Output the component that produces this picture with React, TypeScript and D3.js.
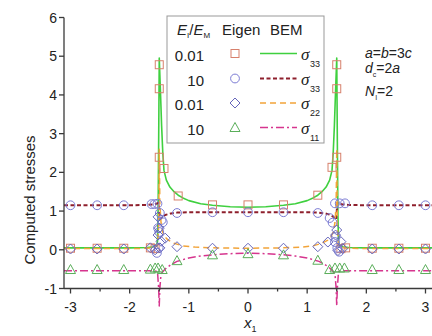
import { line, scaleLinear } from "d3";

const WIDTH = 432;
const HEIGHT = 336;
const FONT = "'Liberation Sans', Arial, sans-serif";
const SERIF = "'Liberation Serif', 'Times New Roman', serif";

const X_DOMAIN = [-3.11, 3.11];
const Y_DOMAIN = [-1, 6];
const X_TICKS = [-3, -2, -1, 0, 1, 2, 3];
const X_MINOR = [-2.5, -1.5, -0.5, 0.5, 1.5, 2.5];
const Y_TICKS = [-1, 0, 1, 2, 3, 4, 5, 6];

// BEM curves
const bemS33SoftX = [-3.11, -2.5, -2, -1.7, -1.6, -1.55, -1.53, -1.52, -1.51, -1.5, -1.48, -1.46, -1.44, -1.42, -1.38, -1.32, -1.25, -1.18, -1.1, -1.0, -0.8, -0.6, -0.3, 0, 0.3, 0.6, 0.8, 1.0, 1.1, 1.18, 1.25, 1.32, 1.38, 1.42, 1.44, 1.46, 1.48, 1.5, 1.51, 1.52, 1.53, 1.55, 1.6, 1.7, 2, 2.5, 3.11];
const bemS33SoftY = [0.05, 0.05, 0.05, 0.06, 0.08, 0.12, 0.2, 0.9, 2.8, 4.95, 4.1, 3.2, 2.5, 2.05, 1.8, 1.62, 1.5, 1.41, 1.34, 1.27, 1.19, 1.15, 1.11, 1.1, 1.11, 1.15, 1.19, 1.27, 1.34, 1.41, 1.5, 1.62, 1.8, 2.05, 2.5, 3.2, 4.1, 4.95, 2.8, 0.9, 0.2, 0.12, 0.08, 0.06, 0.05, 0.05, 0.05];

const bemS33StiffX = [-3.11, -2.5, -2, -1.7, -1.6, -1.55, -1.51, -1.49, -1.45, -1.4, -1.3, -1.2, -1.0, -0.6, 0, 0.6, 1.0, 1.2, 1.3, 1.4, 1.45, 1.49, 1.51, 1.55, 1.6, 1.7, 2, 2.5, 3.11];
const bemS33StiffY = [1.15, 1.15, 1.15, 1.16, 1.17, 1.19, 1.21, 0.78, 0.84, 0.9, 0.94, 0.96, 0.97, 0.97, 0.97, 0.97, 0.97, 0.96, 0.94, 0.9, 0.84, 0.78, 1.21, 1.19, 1.17, 1.16, 1.15, 1.15, 1.15];

const bemS22SoftX = [-3.11, -2.5, -2, -1.7, -1.6, -1.53, -1.51, -1.5, -1.49, -1.47, -1.44, -1.4, -1.35, -1.25, -1.1, -0.9, -0.6, 0, 0.6, 0.9, 1.1, 1.25, 1.35, 1.4, 1.44, 1.47, 1.49, 1.5, 1.51, 1.53, 1.6, 1.7, 2, 2.5, 3.11];
const bemS22SoftY = [0.03, 0.03, 0.03, 0.04, 0.05, 0.1, 0.6, 2.6, 1.2, 0.7, 0.45, 0.33, 0.25, 0.17, 0.1, 0.07, 0.05, 0.04, 0.05, 0.07, 0.1, 0.17, 0.25, 0.33, 0.45, 0.7, 1.2, 2.6, 0.6, 0.1, 0.05, 0.04, 0.03, 0.03, 0.03];

const bemS11StiffX = [-3.11, -2.5, -2, -1.7, -1.6, -1.53, -1.51, -1.5, -1.49, -1.47, -1.43, -1.38, -1.3, -1.2, -1.0, -0.8, -0.6, -0.3, 0, 0.3, 0.6, 0.8, 1.0, 1.2, 1.3, 1.38, 1.43, 1.47, 1.49, 1.5, 1.51, 1.53, 1.6, 1.7, 2, 2.5, 3.11];
const bemS11StiffY = [-0.54, -0.54, -0.54, -0.54, -0.54, -0.56, -1.0, -1.45, -1.0, -0.62, -0.55, -0.47, -0.38, -0.3, -0.21, -0.16, -0.13, -0.1, -0.09, -0.1, -0.13, -0.16, -0.21, -0.3, -0.38, -0.47, -0.55, -0.62, -1.0, -1.45, -1.0, -0.56, -0.54, -0.54, -0.54, -0.54, -0.54];

// Eigen points
const eigSquareX = [-3, -2.55, -2.1, -1.65, -1.57, -1.5, -1.5, -1.5, -1.42, -1.18, -0.6, 0, 0.6, 1.18, 1.42, 1.5, 1.5, 1.5, 1.57, 1.65, 2.1, 2.55, 3];
const eigSquareY = [0.04, 0.04, 0.04, 0.05, 0.03, 2.39, 4.16, 4.78, 2.1, 1.39, 1.16, 1.16, 1.16, 1.41, 2.13, 2.39, 4.16, 4.78, 0.03, 0.05, 0.04, 0.04, 0.04];

const eigCircleX = [-3, -2.55, -2.1, -1.63, -1.58, -1.53, -1.49, -1.46, -1.44, -1.52, -1.5, -1.51, -1.54, -1.2, -0.6, 0, 0.6, 1.18, 1.38, 1.43, 1.48, 1.47, 1.51, 1.54, 1.47, 1.55, 1.64, 2.1, 2.55, 3];
const eigCircleY = [1.15, 1.15, 1.15, 1.18, 1.18, 1.19, 0.95, 0.77, 0.71, 0.56, 0.46, 0.05, -0.08, 0.95, 0.97, 0.97, 0.97, 0.95, 0.82, 0.7, 0.33, 0.2, 0.05, -0.05, 1.2, 1.2, 1.2, 1.15, 1.15, 1.15];

const eigDiamondX = [-3, -2.55, -2.1, -1.65, -1.57, -1.49, -1.52, -1.5, -1.52, -1.47, -1.4, -1.2, -0.6, 0, 0.6, 1.18, 1.35, 1.48, 1.5, 1.57, 1.52, 1.6, 2.1, 2.55, 3];
const eigDiamondY = [0.02, 0.02, 0.02, 0.05, 0.0, 0.05, 0.85, 0.56, 0.38, 0.22, 0.3, 0.08, 0.04, 0.04, 0.04, 0.08, 0.2, 0.38, 0.51, 0.21, -0.02, 0.03, 0.02, 0.02, 0.02];

const eigTriangleX = [-3, -2.55, -2.1, -1.65, -1.57, -1.52, -1.45, -1.2, -0.6, 0, 0.6, 1.18, 1.38, 1.47, 1.55, 1.63, 2.1, 2.55, 3];
const eigTriangleY = [-0.51, -0.51, -0.51, -0.5, -0.47, -0.47, -0.51, -0.28, -0.13, -0.1, -0.13, -0.27, -0.51, -0.47, -0.47, -0.47, -0.51, -0.51, -0.51];

const legendRatios = ["0.01", "10", "0.01", "10"];
const legendSubs = ["33", "33", "22", "11"];

type Kind = "square" | "circle" | "diamond" | "triangle";

const COLORS = {
  green: "#3fd03f",
  brown: "#8e1f2c",
  orange: "#f2a43a",
  magenta: "#d6358e",
  square: "#d7806c",
  circle: "#7c7cd4",
  diamond: "#6666bb",
  triangle: "#5aae5a",
};

const lineStyles = [
  { color: COLORS.green, dash: undefined as string | undefined, width: 1.6 },
  { color: COLORS.brown, dash: "4 2.5", width: 2 },
  { color: COLORS.orange, dash: "6 4", width: 1.5 },
  { color: COLORS.magenta, dash: "8 3 2 3", width: 1.5 },
];
const markerKinds: Kind[] = ["square", "circle", "diamond", "triangle"];
const markerColors = [COLORS.square, COLORS.circle, COLORS.diamond, COLORS.triangle];

function Marker({ kind, cx, cy, color }: { kind: Kind; cx: number; cy: number; color: string }) {
  const common = { fill: "none", stroke: color, strokeWidth: 1 };
  if (kind === "square") return <rect x={cx - 4} y={cy - 4} width={8} height={8} {...common} />;
  if (kind === "circle") return <circle cx={cx} cy={cy} r={4.4} {...common} />;
  if (kind === "diamond")
    return <path d={`M${cx},${cy - 5}L${cx + 5},${cy}L${cx},${cy + 5}L${cx - 5},${cy}Z`} {...common} />;
  return <path d={`M${cx},${cy - 5}L${cx + 5},${cy + 4}L${cx - 5},${cy + 4}Z`} {...common} />;
}

export default function App() {
  const x = scaleLinear().domain(X_DOMAIN).range([64, 432]);
  const y = scaleLinear().domain(Y_DOMAIN).range([288.5, 17.5]);
  const mkLine = line<number>()
    .x((d) => x(d));

  const curves = [
    [bemS33SoftX, bemS33SoftY],
    [bemS33StiffX, bemS33StiffY],
    [bemS22SoftX, bemS22SoftY],
    [bemS11StiffX, bemS11StiffY],
  ];
  const points = [
    [eigSquareX, eigSquareY],
    [eigCircleX, eigCircleY],
    [eigDiamondX, eigDiamondY],
    [eigTriangleX, eigTriangleY],
  ];

  const pathOf = (xs: number[], ys: number[]) =>
    line<number>()
      .x((d) => x(d))
      .y((_, i) => y(ys[i]))(xs) ?? "";
  void mkLine;

  const axisY = y(-1);
  const rowBase = [60.5, 85.5, 110, 134.5];

  return (
    <svg
      width={WIDTH}
      height={HEIGHT}
      viewBox={`0 0 ${WIDTH} ${HEIGHT}`}
      style={{ position: "absolute", left: 0, top: 0, background: "#fff" }}
      fontFamily={FONT}
    >
      <rect width={WIDTH} height={HEIGHT} fill="#fff" />

      {/* curves */}
      {curves.map(([xs, ys], i) => (
        <path
          key={`c${i}`}
          d={pathOf(xs, ys)}
          fill="none"
          stroke={lineStyles[i].color}
          strokeWidth={lineStyles[i].width}
          strokeDasharray={lineStyles[i].dash}
          strokeLinejoin="round"
        />
      ))}

      {/* eigen markers */}
      {points.map(([xs, ys], i) =>
        xs.map((xv, j) => (
          <Marker key={`m${i}-${j}`} kind={markerKinds[i]} cx={x(xv)} cy={y(ys[j])} color={markerColors[i]} />
        ))
      )}

      {/* axes */}
      <g stroke="#3a3a3a" strokeWidth={1.3}>
        <line x1={x(X_DOMAIN[0])} x2={x(X_DOMAIN[0])} y1={y(6)} y2={axisY} />
        <line x1={x(X_DOMAIN[0])} x2={WIDTH} y1={axisY} y2={axisY} />
        {Y_TICKS.map((t) => (
          <line key={`yt${t}`} x1={x(X_DOMAIN[0]) - 5} x2={x(X_DOMAIN[0])} y1={y(t)} y2={y(t)} />
        ))}
        {X_TICKS.map((t) => (
          <line key={`xt${t}`} x1={x(t)} x2={x(t)} y1={axisY} y2={axisY + 5} />
        ))}
        {X_MINOR.map((t) => (
          <line key={`xm${t}`} x1={x(t)} x2={x(t)} y1={axisY} y2={axisY + 3} />
        ))}
      </g>
      <g fontSize={14} fill="#222">
        {Y_TICKS.map((t) => (
          <text key={`yl${t}`} x={x(X_DOMAIN[0]) - 7} y={y(t) + 5} textAnchor="end">
            {String(t)}
          </text>
        ))}
        {X_TICKS.map((t) => (
          <text key={`xl${t}`} x={x(t)} y={312} textAnchor="middle">
            {String(t)}
          </text>
        ))}
      </g>
      <text transform="translate(35,200) rotate(-90)" textAnchor="middle" fontSize={15} fill="#222">
        Computed stresses
      </text>
      <text x={244} y={328} fontSize={15} fill="#222">
        <tspan fontStyle="italic">x</tspan>
        <tspan fontSize={9} dy={4}>1</tspan>
      </text>

      {/* legend */}
      <rect x={167} y={16} width={157} height={127} fill="#fff" stroke="#999" strokeWidth={1} />
      <g fontSize={15} fill="#222">
        <text x={177} y={35}>
          <tspan fontStyle="italic">E</tspan>
          <tspan fontSize={8} dy={3}>I</tspan>
          <tspan dy={-3}>/</tspan>
          <tspan fontStyle="italic">E</tspan>
          <tspan fontSize={8} dy={3}>M</tspan>
        </text>
        <text x={222} y={35}>Eigen</text>
        <text x={270} y={35}>BEM</text>
        {legendRatios.map((r, i) => (
          <g key={`lg${i}`}>
            <text x={204} y={rowBase[i]} textAnchor="end">
              {r}
            </text>
            <Marker kind={markerKinds[i]} cx={235} cy={rowBase[i] - 7} color={markerColors[i]} />
            <line
              x1={260}
              x2={297}
              y1={rowBase[i] - 7}
              y2={rowBase[i] - 7}
              stroke={lineStyles[i].color}
              strokeWidth={lineStyles[i].width}
              strokeDasharray={lineStyles[i].dash}
            />
            <text x={301} y={rowBase[i] - 1} fontFamily={SERIF} fontStyle="italic" fontSize={17}>
              σ
            </text>
            <text x={310} y={rowBase[i] + 6} fontSize={9}>
              {legendSubs[i]}
            </text>
          </g>
        ))}
      </g>

      {/* parameters */}
      <g fontSize={14} fill="#222">
        <text x={365} y={58}>
          <tspan fontStyle="italic">a</tspan>=<tspan fontStyle="italic">b</tspan>=3<tspan fontStyle="italic">c</tspan>
        </text>
        <text x={365} y={73}>
          <tspan fontStyle="italic">d</tspan>
          <tspan fontSize={7} dy={4}>c</tspan>
          <tspan dy={-4}>=2</tspan>
          <tspan fontStyle="italic">a</tspan>
        </text>
        <text x={365} y={96}>
          <tspan fontStyle="italic">N</tspan>
          <tspan fontSize={7} dy={4}>I</tspan>
          <tspan dy={-4}>=2</tspan>
        </text>
      </g>
    </svg>
  );
}
